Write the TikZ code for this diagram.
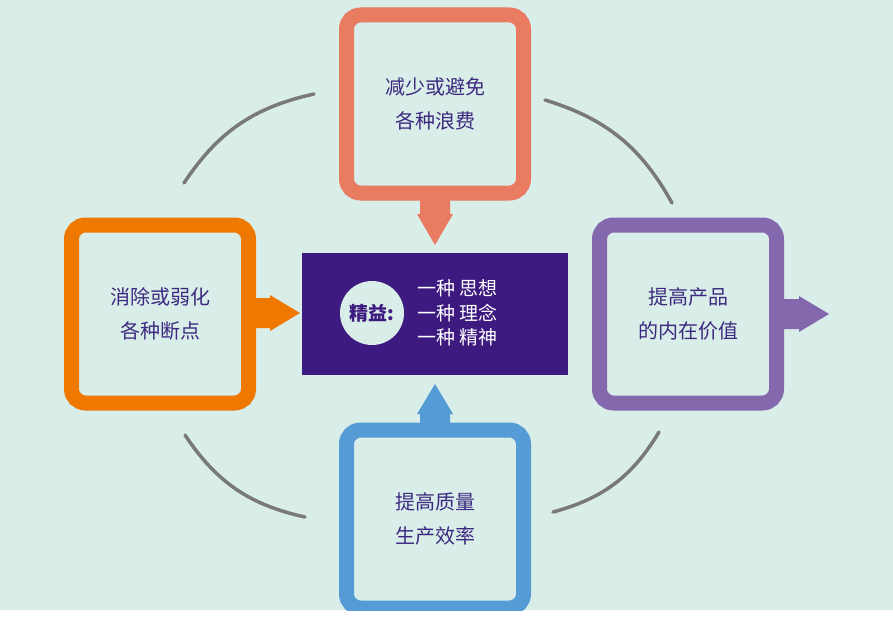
\documentclass[tikz,border=0pt]{standalone}
\usepackage{fontspec}
\setmainfont{Noto Sans CJK SC}
\usetikzlibrary{positioning}
\definecolor{bgc}{HTML}{D9EDE9}
\definecolor{wastec}{HTML}{E87B60}
\definecolor{breakc}{HTML}{EF7800}
\definecolor{valuec}{HTML}{8468AD}
\definecolor{qualc}{HTML}{559BD5}
\definecolor{corec}{HTML}{3D1A80}
\definecolor{txtc}{HTML}{3D2A80}
\tikzset{
  framebox/.style={draw, line width=15pt, rounded corners=14pt, minimum width=177pt, minimum height=178pt,
    align=center, text=txtc, font=\fontsize{20}{34}\selectfont},
  ring/.style={draw=gray!95!black, line width=3.5pt, line cap=round, bend left=22}
}
\begin{document}
\begin{tikzpicture}[x=1pt, y=-1pt]
			\useasboundingbox (0,0) rectangle (893,618);
			\fill[bgc] (0,0) rectangle (893,610);
			\begin{scope}
			\clip (0,0) rectangle (893,610);
			% the ring
			\draw[ring] (184,183) to (314,94);
			\draw[ring] (545,100) to (672,203);
			\draw[ring] (659,432) to (553,512);
			\draw[ring] (305,517) to (185,435);
			% core
			\node[fill=corec, minimum width=266pt, minimum height=122pt] (core) at (435,314) {};
			\node[circle, fill=bgc, minimum size=64pt, inner sep=0pt, text=corec, font=\fontsize{19}{20}\selectfont\bfseries] (lean) at (372,313) {精益:};
			\node[right=10pt of lean, text=white, align=left, font=\fontsize{19}{24.5}\selectfont] (ideas) {一种 思想\\一种 理念\\一种 精神};
			% four boxes
			\node[framebox, draw=wastec] (waste) at (435,104) {减少或避免\\各种浪费};
			\node[framebox, draw=breakc] (breaks) at (160,314) {消除或弱化\\各种断点};
			\node[framebox, draw=valuec] (value) at (688,314) {提高产品\\的内在价值};
			\node[framebox, draw=qualc] (quality) at (435,519) {提高质量\\生产效率};
			% arrows
			\fill[wastec] (420,195) -- (420,214) -- (417,214) -- (435,245) -- (453,214) -- (450,214) -- (450,195) -- cycle;
			\fill[breakc] (250,298) -- (270,298) -- (270,295) -- (300,313) -- (270,331) -- (270,328) -- (250,328) -- cycle;
			\fill[valuec] (778,299) -- (799,299) -- (799,296) -- (829,314) -- (799,332) -- (799,329) -- (778,329) -- cycle;
			\fill[qualc] (420,434) -- (420,414) -- (417,414) -- (435,384) -- (453,414) -- (450,414) -- (450,434) -- cycle;
			\end{scope}
		\end{tikzpicture}
\end{document}
